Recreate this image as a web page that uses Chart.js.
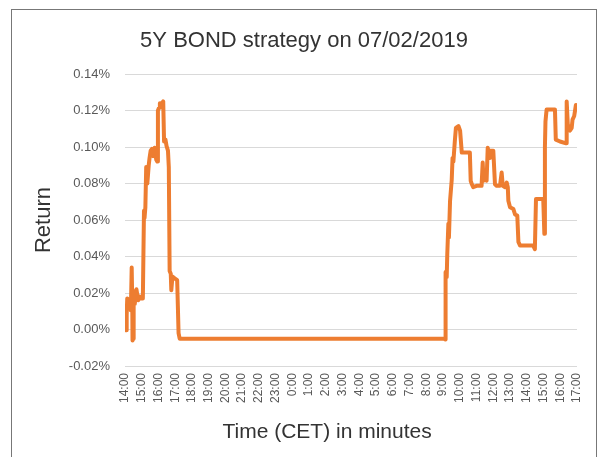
<!DOCTYPE html>
<html>
<head>
<meta charset="utf-8">
<script src="https://cdn.jsdelivr.net/npm/chart.js@4.4.1/dist/chart.umd.min.js"></script>
<style>
  body { margin: 0; background: #fff; }
  #borda { position: absolute; left: 11px; top: 9px; width: 584px; height: 460px; border: 1px solid #777; }
  #grafico { position: absolute; left: 12px; top: 10px; }
</style>
</head>
<body>
<div id="borda"></div>
<canvas id="grafico" width="584" height="447"></canvas>
<script>
  // minutos desde 14:00 do dia 1 (até 17:00 do dia seguinte)
  const minutos = [
    0, 4, 6, 8, 14, 19, 21, 24, 26, 27, 29, 31, 35, 41, 47, 53, 58, 64, 68, 70,
    73, 76, 80, 85, 88, 92, 97, 101, 106, 112, 116, 118, 122, 125, 133, 137, 140, 145, 149, 154,
    157, 160, 164, 166, 170, 178, 187, 192, 196, 1146,
    1147, 1148, 1150, 1153, 1155, 1159, 1161, 1165, 1171, 1174, 1177, 1182, 1186, 1195, 1201, 1207,
    1236, 1239, 1243, 1248, 1260, 1278, 1282, 1285, 1290, 1296, 1300, 1305, 1308, 1320, 1326, 1332,
    1344, 1350, 1354, 1362, 1368, 1372, 1374, 1380, 1392, 1398, 1406, 1410, 1416, 1463, 1469, 1473,
    1499, 1503, 1505, 1507, 1511, 1541, 1544, 1559, 1581, 1583, 1587, 1595, 1601, 1604, 1610, 1616
  ];

  // retorno em %
  const retornos = [
    0.0015, -0.0004, 0.008, 0.017, 0.016, 0.016, 0.0105, 0.034, 0.015, -0.006, -0.005, 0.021, 0.014, 0.022, 0.016, 0.018, 0.017, 0.017, 0.065, 0.061,
    0.067, 0.089, 0.080, 0.090, 0.094, 0.098, 0.099, 0.095, 0.0996, 0.093, 0.092, 0.120, 0.1215, 0.124, 0.124, 0.125, 0.103, 0.104, 0.1005, 0.098,
    0.089, 0.032, 0.0305, 0.0215, 0.029, 0.028, 0.027, -0.002, -0.005, -0.005,
    -0.0055, 0.0233, 0.0315, 0.0287, 0.041, 0.058, 0.0505, 0.0705, 0.082, 0.094, 0.092, 0.103, 0.1105, 0.1115, 0.109, 0.097,
    0.097, 0.0815, 0.0796, 0.078, 0.0787, 0.0787, 0.0915, 0.0815, 0.087, 0.0815, 0.0996, 0.094, 0.098, 0.098, 0.0796, 0.0787,
    0.0787, 0.086, 0.0787, 0.078, 0.0805, 0.078, 0.0705, 0.067, 0.066, 0.063, 0.0624, 0.048, 0.046, 0.046, 0.044, 0.0715,
    0.0715, 0.0524, 0.100, 0.114, 0.1205, 0.1205, 0.104, 0.103, 0.102, 0.125, 0.1124, 0.109, 0.1105, 0.115, 0.117, 0.123
  ];

  const horaInicial = 14;
  const totalMinutos = 27 * 60;

  const pontos = minutos.map((m, i) => ({ x: m, y: retornos[i] }));
  const fonte = "'Liberation Sans', Arial, sans-serif";

  // título do eixo x, um pouco deslocado à esquerda como no Excel
  const tituloEixoX = {
    id: "tituloEixoX",
    afterDraw(chart) {
      const { ctx, chartArea } = chart;
      ctx.save();
      ctx.font = `21px ${fonte}`;
      ctx.fillStyle = "#333";
      ctx.textAlign = "center";
      ctx.textBaseline = "middle";
      ctx.fillText("Time (CET) in minutes", chartArea.left + chartArea.width * 0.447, 422);
      ctx.restore();
    }
  };

  new Chart(document.getElementById("grafico"), {
    type: "line",
    data: {
      datasets: [{
        data: pontos,
        borderColor: "#ED7D31",
        borderWidth: 4,
        pointRadius: 0,
        tension: 0,
        borderJoinStyle: "round",
        borderCapStyle: "round"
      }]
    },
    options: {
      responsive: false,
      animation: false,
      plugins: {
        legend: { display: false },
        tooltip: { enabled: false },
        title: {
          display: true,
          text: "5Y BOND strategy on 07/02/2019",
          color: "#333",
          font: { family: fonte, size: 22, weight: "normal" },
          padding: { top: 18, bottom: 19.6 }
        }
      },
      scales: {
        x: {
          type: "linear",
          min: 0,
          max: totalMinutos,
          grid: { display: false, drawTicks: false },
          border: { display: false },
          ticks: {
            stepSize: 60,
            autoSkip: false,
            minRotation: 90,
            maxRotation: 90,
            padding: 7,
            color: "#595959",
            font: { family: fonte, size: 12 },
            callback: v => `${(horaInicial + v / 60) % 24}:00`
          },
          afterFit: escala => {
            escala.height = 91;
            escala.paddingRight = 19;
          }
        },
        y: {
          min: -0.02,
          max: 0.14,
          grid: { color: "#d9d9d9", lineWidth: 1, drawTicks: false },
          border: { display: false },
          ticks: {
            stepSize: 0.02,
            padding: 15,
            color: "#595959",
            font: { family: fonte, size: 13 },
            callback: v => `${v.toFixed(2)}%`
          },
          title: {
            display: true,
            text: "Return",
            color: "#333",
            font: { family: fonte, size: 22 },
            padding: { top: 19, bottom: 0 }
          },
          afterFit: escala => { escala.width = 113; }
        }
      }
    },
    plugins: [tituloEixoX]
  });
</script>
</body>
</html>
